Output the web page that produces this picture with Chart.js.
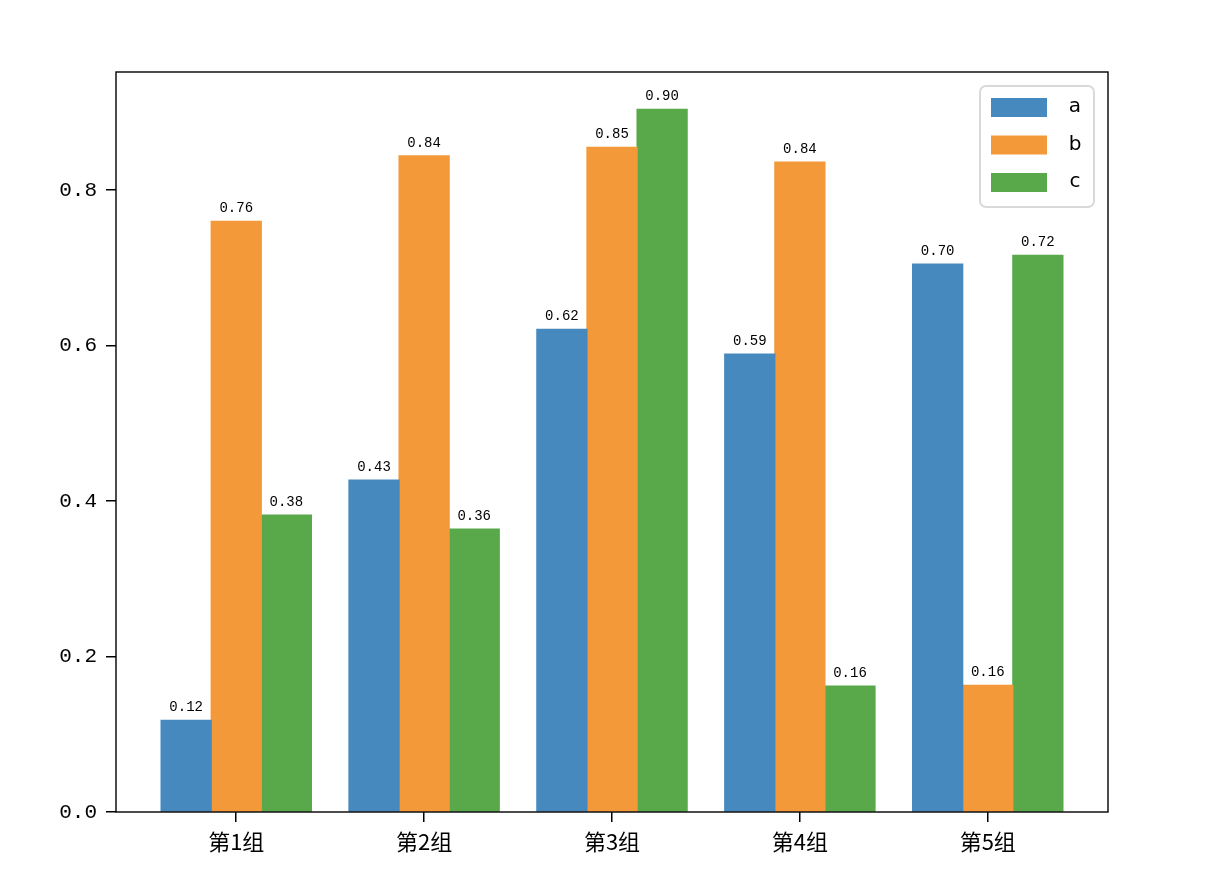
<!DOCTYPE html>
<html>
<head>
<meta charset="utf-8">
<script src="https://cdn.jsdelivr.net/npm/chart.js@4.4.0/dist/chart.umd.min.js"></script>
<style>
  body { margin: 0; background: #fff; }
</style>
</head>
<body>
<canvas id="chart" width="1212" height="878"></canvas>
<script>
// data
const categories = ["第1组", "第2组", "第3组", "第4组", "第5组"];
const seriesNames = ["a", "b", "c"];
const valuesA = [0.118, 0.427, 0.621, 0.589, 0.705];
const valuesB = [0.760, 0.844, 0.855, 0.836, 0.163];
const valuesC = [0.382, 0.364, 0.904, 0.162, 0.716];
const yTicks = [0.0, 0.2, 0.4, 0.6, 0.8];
const colors = ["#4689be", "#f39939", "#59a94a"];

const tickFont = { family: "'Liberation Mono', 'Noto Sans CJK SC', monospace", size: 21 };
const catFont = { family: "'Noto Sans CJK SC', sans-serif", size: 22 };
const labelFont = "14px 'Liberation Mono', 'Noto Sans CJK SC', monospace";

const allValues = [valuesA, valuesB, valuesC];
const datasets = seriesNames.map((name, k) => ({
  label: name,
  data: allValues[k].map((v, i) => ({ x: i, y: v })),
  backgroundColor: colors[k],
  borderWidth: 0,
  inflateAmount: 0.6,
  categoryPercentage: 0.8,
  barPercentage: 1.0,
}));

// box around plot area + value labels on top of bars
const frameAndLabels = {
  id: "frameAndLabels",
  afterDatasetsDraw(chart) {
    const ctx = chart.ctx;
    const a = chart.chartArea;
    ctx.save();
    ctx.font = labelFont;
    ctx.fillStyle = "#000";
    ctx.textAlign = "center";
    ctx.textBaseline = "bottom";
    chart.data.datasets.forEach((ds, k) => {
      const meta = chart.getDatasetMeta(k);
      meta.data.forEach((bar, i) => {
        ctx.fillText(ds.data[i].y.toFixed(2), bar.x, bar.y - 6);
      });
    });
    ctx.strokeStyle = "#000";
    ctx.lineWidth = 1.4;
    ctx.strokeRect(a.left, a.top, a.right - a.left, a.bottom - a.top);
    ctx.restore();
  },
};

// legend in the upper right corner, like matplotlib's
const boxLegend = {
  id: "boxLegend",
  afterDraw(chart) {
    const ctx = chart.ctx;
    const a = chart.chartArea;
    const w = 114, h = 121;
    const x0 = a.right - 14 - w, y0 = a.top + 14;
    ctx.save();
    ctx.beginPath();
    ctx.roundRect(x0, y0, w, h, 6);
    ctx.fillStyle = "rgba(255,255,255,0.8)";
    ctx.fill();
    ctx.strokeStyle = "#d9d9d9";
    ctx.lineWidth = 2;
    ctx.stroke();
    ctx.font = "20px 'DejaVu Sans', sans-serif";
    ctx.textAlign = "center";
    ctx.textBaseline = "middle";
    chart.data.datasets.forEach((ds, k) => {
      const y = y0 + 12 + k * 37.5;
      ctx.fillStyle = ds.backgroundColor;
      ctx.fillRect(x0 + 11, y, 56, 19);
      ctx.fillStyle = "#000";
      ctx.fillText(ds.label, x0 + 95, y + 9);
    });
    ctx.restore();
  },
};

new Chart(document.getElementById("chart"), {
  type: "bar",
  data: { datasets: datasets },
  options: {
    responsive: false,
    devicePixelRatio: 1,
    animation: false,
    layout: { padding: { top: 72, right: 104, left: 0, bottom: 0 } },
    plugins: { legend: { display: false }, tooltip: { enabled: false } },
    scales: {
      x: {
        type: "linear",
        min: -0.64,
        max: 4.64,
        offset: false,
        afterBuildTicks: (s) => { s.ticks = categories.map((c, i) => ({ value: i })); },
        afterFit: (s) => { s.height = 66; },
        ticks: {
          color: "#000",
          font: catFont,
          padding: 6,
          maxRotation: 0,
          autoSkip: false,
          callback: (v) => categories[v],
        },
        grid: { offset: false, drawOnChartArea: false, drawTicks: true, tickLength: 10, color: "#000", lineWidth: 1.5 },
        border: { display: false },
      },
      y: {
        min: 0,
        max: 0.952,
        afterBuildTicks: (s) => { s.ticks = yTicks.map((v) => ({ value: v })); },
        afterFit: (s) => { s.width = 116; },
        ticks: {
          color: "#000",
          font: tickFont,
          padding: 9,
          callback: (v) => v.toFixed(1),
        },
        grid: { drawOnChartArea: false, drawTicks: true, tickLength: 10, color: "#000", lineWidth: 1.5 },
        border: { display: false },
      },
    },
  },
  plugins: [frameAndLabels, boxLegend],
});
</script>
</body>
</html>
